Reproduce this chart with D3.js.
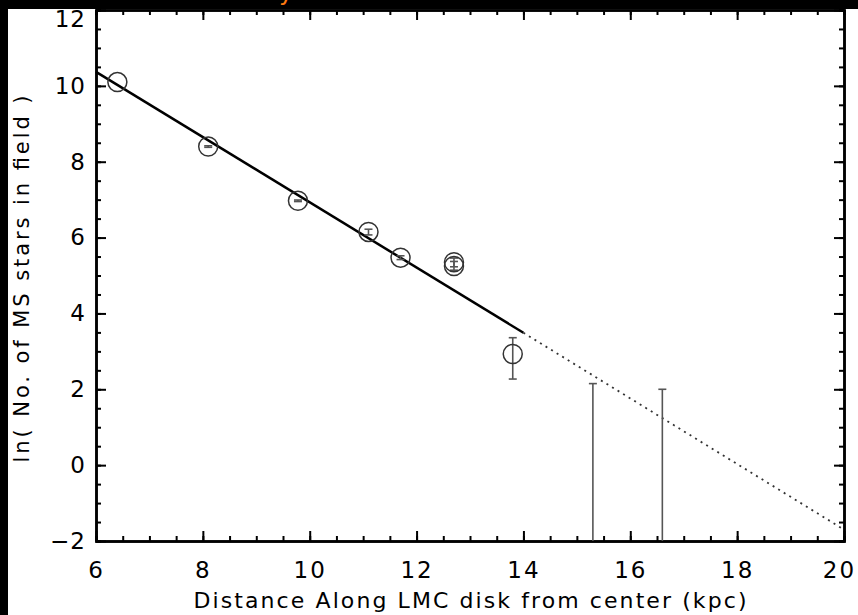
<!DOCTYPE html>
<html>
<head>
<meta charset="utf-8">
<script src="https://cdn.jsdelivr.net/npm/d3@7"></script>
<style>
  body { margin: 0; background: #000; }
  svg { display: block; }
  .axis path, .axis line { stroke: #000; }
  .axis text { font-family: "DejaVu Sans", sans-serif; font-size: 23px; fill: #000; }
</style>
</head>
<body>
<div id="chart"></div>
<script>
// field distance (kpc) and ln of MS star counts
var dist  = [6.4, 8.1, 9.78, 11.1, 11.7, 12.7, 12.7, 13.8, 15.3, 16.6];
var lnN   = [10.1, 8.4, 6.97, 6.15, 5.47, 5.35, 5.25, 2.93, null, null];
var errLo = [null, 8.38, 6.95, 6.07, 5.42, 5.23, 5.14, 2.27, -2, -2];
var errHi = [null, 8.42, 6.99, 6.22, 5.52, 5.46, 5.37, 3.36, 2.15, 2.0];

// exponential fit, solid over the fitted range, dotted beyond
var fitX = [6, 14];
var fitY = [10.37, 3.49];
var extX = [14, 20];
var extY = [3.49, -1.7];

var xTicks = [6, 8, 10, 12, 14, 16, 18, 20];
var yTicks = [-2, 0, 2, 4, 6, 8, 10, 12];

var W = 858, H = 615;

var svg = d3.select("#chart").append("svg")
    .attr("width", W)
    .attr("height", H);

svg.append("rect").attr("width", W).attr("height", H).attr("fill", "#000");
svg.append("rect")
    .attr("x", 8).attr("y", 9)
    .attr("width", W - 8).attr("height", H - 9)
    .attr("fill", "#fff");

// bit of a cropped title at the top edge
svg.append("text")
    .attr("x", 286).attr("y", 0)
    .attr("font-family", "DejaVu Sans, sans-serif")
    .attr("font-size", 24)
    .attr("fill", "#ff7a10")
    .attr("text-anchor", "middle")
    .text("y");

var x = d3.scaleLinear().domain([6, 20]).range([96, 844]);
var y = d3.scaleLinear().domain([-2, 12]).range([541, 10]);

var xMinor = d3.range(6, 20.01, 0.5);
var yMinor = d3.range(-2, 12.01, 0.5);

function styleAxis(g) {
    g.selectAll("path").attr("stroke-width", 2.5);
    g.selectAll("line").attr("stroke-width", 2);
}

// bottom
svg.append("g").attr("class", "axis")
    .attr("transform", "translate(0," + y(-2) + ")")
    .call(d3.axisBottom(x).tickValues(xMinor).tickSize(-5).tickFormat(""))
    .call(styleAxis);
var xAx = svg.append("g").attr("class", "axis")
    .attr("transform", "translate(0," + y(-2) + ")")
    .call(d3.axisBottom(x).tickValues(xTicks).tickSizeInner(-10).tickSizeOuter(0).tickPadding(21).tickFormat(d3.format("d")))
    .call(styleAxis);
xAx.selectAll("text").attr("letter-spacing", 2);
// last label pulled in so it stays on the page
xAx.selectAll(".tick").filter(function (d) { return d === 20; })
    .select("text").attr("dx", -5);

// top
svg.append("g").attr("class", "axis")
    .attr("transform", "translate(0," + y(12) + ")")
    .call(d3.axisTop(x).tickValues(xMinor).tickSize(-5).tickFormat(""))
    .call(styleAxis);
svg.append("g").attr("class", "axis")
    .attr("transform", "translate(0," + y(12) + ")")
    .call(d3.axisTop(x).tickValues(xTicks).tickSizeInner(-10).tickSizeOuter(0).tickFormat(""))
    .call(styleAxis);

// left
svg.append("g").attr("class", "axis")
    .attr("transform", "translate(" + x(6) + ",0)")
    .call(d3.axisLeft(y).tickValues(yMinor).tickSize(-5).tickFormat(""))
    .call(styleAxis);
var yAx = svg.append("g").attr("class", "axis")
    .attr("transform", "translate(" + x(6) + ",0)")
    .call(d3.axisLeft(y).tickValues(yTicks).tickSizeInner(-10).tickSizeOuter(0).tickPadding(10)
        .tickFormat(function (d) { return d < 0 ? "\u2212" + (-d) : d; }))
    .call(styleAxis);
yAx.selectAll("text").attr("letter-spacing", 1);
// top label sits just under the frame edge
yAx.selectAll(".tick").filter(function (d) { return d === 12; })
    .select("text").attr("dy", "0.72em");

// right
svg.append("g").attr("class", "axis")
    .attr("transform", "translate(" + x(20) + ",0)")
    .call(d3.axisRight(y).tickValues(yMinor).tickSize(-5).tickFormat(""))
    .call(styleAxis);
svg.append("g").attr("class", "axis")
    .attr("transform", "translate(" + x(20) + ",0)")
    .call(d3.axisRight(y).tickValues(yTicks).tickSizeInner(-10).tickSizeOuter(0).tickFormat(""))
    .call(styleAxis);

// axis titles
svg.append("text")
    .attr("x", 470).attr("y", 608)
    .attr("text-anchor", "middle")
    .attr("font-family", "DejaVu Sans, sans-serif")
    .attr("font-size", 22)
    .attr("textLength", 553)
    .attr("lengthAdjust", "spacing")
    .text("Distance Along LMC disk from center (kpc)");

svg.append("text")
    .attr("transform", "translate(29,279) rotate(-90)")
    .attr("text-anchor", "middle")
    .attr("font-family", "DejaVu Sans, sans-serif")
    .attr("font-size", 21)
    .attr("textLength", 367)
    .attr("lengthAdjust", "spacing")
    .text("ln( No. of MS stars in field )");

// fit line
var line = d3.line()
    .x(function (d) { return x(d[0]); })
    .y(function (d) { return y(d[1]); });

svg.append("path")
    .datum(d3.zip(fitX, fitY))
    .attr("d", line)
    .attr("fill", "none")
    .attr("stroke", "#000")
    .attr("stroke-width", 2.5);

svg.append("path")
    .datum(d3.zip(extX, extY))
    .attr("d", line)
    .attr("fill", "none")
    .attr("stroke", "#333")
    .attr("stroke-width", 1.8)
    .attr("stroke-dasharray", "2,4.5");

// error bars
var idx = d3.range(dist.length).filter(function (i) { return errHi[i] !== null; });
var eb = svg.append("g")
    .attr("stroke", "#555")
    .attr("stroke-width", 1.6);

eb.selectAll(".bar").data(idx).enter().append("line")
    .attr("x1", function (i) { return x(dist[i]); })
    .attr("x2", function (i) { return x(dist[i]); })
    .attr("y1", function (i) { return y(errLo[i]); })
    .attr("y2", function (i) { return y(errHi[i]); });

eb.selectAll(".capHi").data(idx).enter().append("line")
    .attr("x1", function (i) { return x(dist[i]) - 4; })
    .attr("x2", function (i) { return x(dist[i]) + 4; })
    .attr("y1", function (i) { return y(errHi[i]); })
    .attr("y2", function (i) { return y(errHi[i]); });

eb.selectAll(".capLo").data(idx.filter(function (i) { return lnN[i] !== null; })).enter().append("line")
    .attr("x1", function (i) { return x(dist[i]) - 4; })
    .attr("x2", function (i) { return x(dist[i]) + 4; })
    .attr("y1", function (i) { return y(errLo[i]); })
    .attr("y2", function (i) { return y(errLo[i]); });

// points
svg.append("g").selectAll("circle")
    .data(d3.range(dist.length).filter(function (i) { return lnN[i] !== null; }))
    .enter().append("circle")
    .attr("cx", function (i) { return x(dist[i]); })
    .attr("cy", function (i) { return y(lnN[i]); })
    .attr("r", 9.5)
    .attr("fill", "none")
    .attr("stroke", "#333")
    .attr("stroke-width", 1.5);
</script>
</body>
</html>
